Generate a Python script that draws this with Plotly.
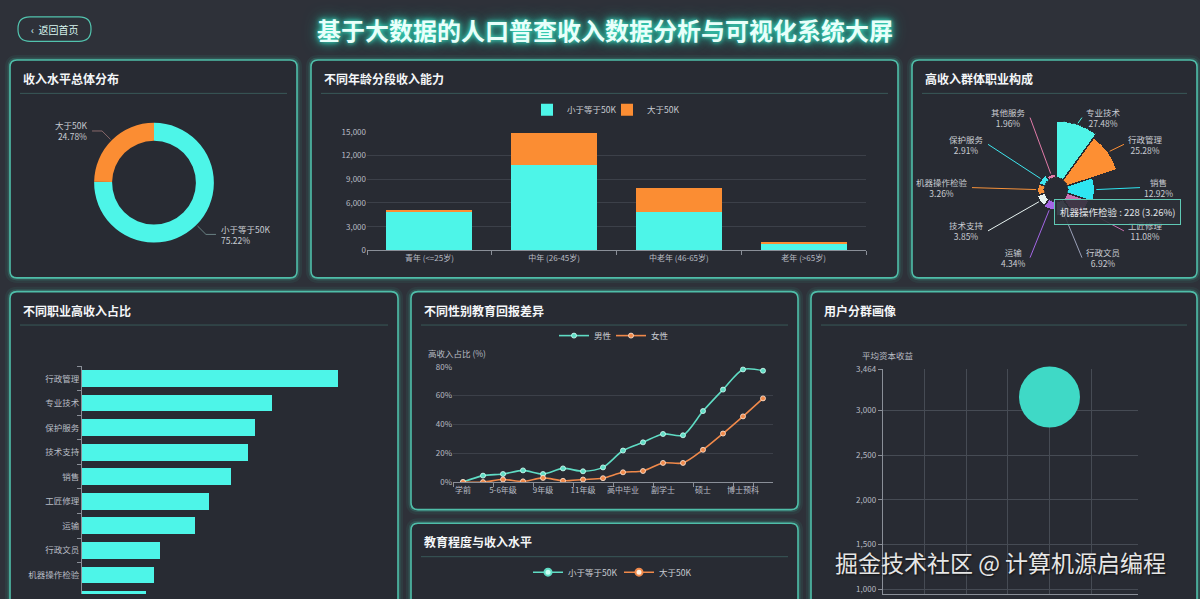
import math
import plotly.graph_objects as go

W, H = 1200, 599


def X(p):
    return p / W


def Y(p):
    return 1 - p / H


# ---------------- data ----------------
income_labels = ["小于等于50K", "大于50K"]
income_share = [75.22, 24.78]

age_groups = ["青年 (<=25岁)", "中年 (26-45岁)", "中老年 (46-65岁)", "老年 (>65岁)"]
age_low = [5000, 10800, 4920, 830]
age_high = [120, 4050, 2930, 280]

occ_names = ["专业技术", "行政管理", "销售", "工匠修理", "行政文员", "运输",
             "技术支持", "机器操作检验", "保护服务", "其他服务"]
occ_share = [27.48, 25.28, 12.92, 11.08, 6.92, 4.34, 3.85, 3.26, 2.91, 1.96]

rate_occ = ["行政管理", "专业技术", "保护服务", "技术支持", "销售", "工匠修理",
            "运输", "行政文员", "机器操作检验", "农林渔业"]
rate_val = [45.7, 33.9, 30.9, 29.6, 26.6, 22.7, 20.2, 13.9, 12.9, 11.4]

edu_levels = ["学前", "1-4年级", "5-6年级", "7-8年级", "9年级", "10年级", "11年级", "12年级",
              "高中毕业", "大学肄业", "副学士", "学术副学士", "硕士", "专业学位", "博士预科", "博士"]
male_rate = [0, 4.5, 5.6, 8.1, 5.6, 9.5, 7.5, 10.2, 21.9, 27.6, 33.4, 32.5, 49.3, 64.2, 78.2, 77.3]
female_rate = [0, 0, 1.8, 0.5, 2.9, 0.9, 1.8, 2.7, 6.8, 7.7, 13.3, 13.3, 22.4, 33.7, 45.6, 58.1]

cluster_x = [40]
cluster_y = [3153]
cap_ticks = [1000, 1500, 2000, 2500, 3000, 3464]

tooltip_text = "机器操作检验 : 228 (3.26%)"

# ---------------- style ----------------
FONT = "Noto Sans CJK SC, Noto Sans, sans-serif"
BG = "#2e3139"
PANEL = "#282b33"
CYAN = "#4df5e8"
ORANGE = "#fb8d33"
TEAL = "#5fdcc4"
LORANGE = "#f0894a"
GRID = "#3c4049"
AXIS = "#8a8f98"
TICK = "#b8bcc4"
rose_colors = ["#4ff4e8", "#fd8f33", "#2ee6f2", "#c86fb0", "#9aa0b8",
               "#a466e6", "#e8f4f2", "#f6913a", "#3fe6ee", "#e17aa8"]

fig = go.Figure()
shapes = []
annotations = []


def rrect_path(x0, y0, x1, y1, r):
    rx, ry = r / W, r / H
    a0, a1 = X(x0), X(x1)
    b0, b1 = Y(y0), Y(y1)  # b0 top (larger), b1 bottom
    return (f"M {a0+rx},{b0} L {a1-rx},{b0} Q {a1},{b0} {a1},{b0-ry} "
            f"L {a1},{b1+ry} Q {a1},{b1} {a1-rx},{b1} L {a0+rx},{b1} "
            f"Q {a0},{b1} {a0},{b1+ry} L {a0},{b0-ry} Q {a0},{b0} {a0+rx},{b0} Z")


panels = [
    ((10, 55, 297, 277), "收入水平总体分布"),
    ((311, 55, 898, 277), "不同年龄分段收入能力"),
    ((912, 55, 1197, 277), "高收入群体职业构成"),
    ((10, 291, 398, 640), "不同职业高收入占比"),
    ((411, 291, 798, 513), "不同性别教育回报差异"),
    ((411, 527, 798, 640), "教育程度与收入水平"),
    ((811, 291, 1197, 640), "用户分群画像"),
]
for (x0, y0, x1, y1), title in panels:
    p = rrect_path(x0, y0, x1, y1, 7)
    shapes.append(dict(type="path", path=p, xref="paper", yref="paper", layer="below",
                       line=dict(color="rgba(70,215,185,0.07)", width=10)))
    shapes.append(dict(type="path", path=p, xref="paper", yref="paper", layer="below",
                       line=dict(color="rgba(70,215,185,0.16)", width=5)))
    shapes.append(dict(type="path", path=p, xref="paper", yref="paper", layer="below",
                       fillcolor=PANEL, line=dict(color="#4fbea9", width=1.6)))
    shapes.append(dict(type="line", xref="paper", yref="paper", layer="below",
                       x0=X(x0 + 10), x1=X(x1 - 10), y0=Y(y0 + 34), y1=Y(y0 + 34),
                       line=dict(color="rgba(90,175,160,0.35)", width=1)))
    annotations.append(dict(text=f"<b>{title}</b>", x=X(x0 + 11), y=Y(y0 + 19), xref="paper",
                            yref="paper", xanchor="left", yanchor="middle", showarrow=False,
                            font=dict(size=12, color="#f4f6f8")))

# header
annotations.append(dict(text="<b>基于大数据的人口普查收入数据分析与可视化系统大屏</b>",
                        x=X(605), y=Y(24), xref="paper", yref="paper", showarrow=False,
                        xanchor="center", yanchor="middle",
                        font=dict(size=24, color="#e8fffa",
                                  shadow="0 0 4px #3ce0c4, 0 0 9px #2fbfa6, 0 0 16px #1f9f8a")))
shapes.append(dict(type="path", path=rrect_path(18, 11, 91, 36, 12), xref="paper", yref="paper",
                   layer="below", line=dict(color="#52c3ae", width=1.2)))
annotations.append(dict(text="‹  返回首页", x=X(55), y=Y(23.5), xref="paper", yref="paper",
                        showarrow=False, xanchor="center", yanchor="middle",
                        font=dict(size=10, color="#d8f5ef")))

# ---------------- panel A: donut ----------------
cxA, cyA, rA = 154, 180, 61
fig.add_trace(go.Pie(labels=income_labels, values=income_share, hole=0.7, sort=False,
                     direction="clockwise", rotation=0, textinfo="none", showlegend=False,
                     marker=dict(colors=[CYAN, ORANGE], line=dict(width=0)),
                     domain=dict(x=[X(cxA - rA), X(cxA + rA)], y=[Y(cyA + rA), Y(cyA - rA)])))
tot = sum(income_share)
cum = 0
for lab, v, col in zip(income_labels, income_share, [CYAN, ORANGE]):
    mid = math.radians((cum + v / 2) / tot * 360)
    cum += v
    sx, sy = math.sin(mid), -math.cos(mid)
    p0 = (cxA + (rA + 1) * sx, cyA + (rA + 1) * sy)
    p1 = (cxA + (rA + 13) * sx, cyA + (rA + 13) * sy)
    side = 1 if sx >= 0 else -1
    p2 = (p1[0] + 10 * side, p1[1])
    shapes.append(dict(type="path", xref="paper", yref="paper", layer="below",
                       path=f"M {X(p0[0])},{Y(p0[1])} L {X(p1[0])},{Y(p1[1])} L {X(p2[0])},{Y(p2[1])}",
                       line=dict(color="rgba(160,120,120,0.8)" if side < 0 else "rgba(120,150,150,0.8)", width=1)))
    annotations.append(dict(text=f"{lab}<br>{v:.2f}%", x=X(p2[0] + 3 * side), y=Y(p2[1]),
                            xref="paper", yref="paper", showarrow=False,
                            xanchor="left" if side > 0 else "right", yanchor="middle",
                            align="left" if side > 0 else "right",
                            font=dict(size=8.5, color="#c8ccd2")))

# ---------------- panel B: stacked bars ----------------
fig.add_trace(go.Bar(x=age_groups, y=age_low, name="小于等于50K", marker=dict(color=CYAN, line=dict(width=0)),
                     width=0.69, xaxis="x", yaxis="y", legend="legend", showlegend=True))
fig.add_trace(go.Bar(x=age_groups, y=age_high, name="大于50K", marker=dict(color=ORANGE, line=dict(width=0)),
                     width=0.69, xaxis="x", yaxis="y", legend="legend2", showlegend=True))

# ---------------- panel C: rose ----------------
cxC, cyC, RC, hole_px = 1056, 187, 70, 12
fig.add_trace(go.Barpolar(r=occ_share, theta=[18 + 36 * i for i in range(len(occ_share))],
                          width=[36] * len(occ_share), text=occ_names,
                          marker=dict(color=rose_colors, line=dict(color=PANEL, width=1.5)),
                          subplot="polar", showlegend=False))
vmax = max(occ_share)
for i, (nm, v, col) in enumerate(zip(occ_names, occ_share, rose_colors)):
    a = math.radians(18 + 36 * i)
    sx, cs = math.sin(a), math.cos(a)
    rpx = hole_px + (RC - hole_px) * v / vmax
    e = (cxC + (rpx + 1) * sx, cyC - (rpx + 1) * cs)
    lx, ly = cxC + 84 * sx, 185 - 75 * cs
    shapes.append(dict(type="line", xref="paper", yref="paper", layer="below",
                       x0=X(e[0]), y0=Y(e[1]), x1=X(lx), y1=Y(ly),
                       line=dict(color=col, width=1)))
    side = 1 if sx > 0 else -1
    annotations.append(dict(text=f"{nm}<br>{v:.2f}%", x=X(lx + 2 * side), y=Y(ly),
                            xref="paper", yref="paper", showarrow=False,
                            xanchor="left" if side > 0 else "right", yanchor="middle",
                            align="center", font=dict(size=8.5, color="#c8ccd2")))
annotations.append(dict(text=tooltip_text, x=X(1054), y=Y(197), xref="paper", yref="paper",
                        showarrow=False, xanchor="left", yanchor="top",
                        bgcolor="rgba(44,48,56,0.88)", bordercolor="#5fc9b5", borderwidth=1,
                        borderpad=5, font=dict(size=9.5, color="#e0e4e8")))

# ---------------- panel D: horizontal bars ----------------
fig.add_trace(go.Bar(x=rate_val, y=rate_occ, orientation="h", marker=dict(color=CYAN, line=dict(width=0)),
                     width=0.68, xaxis="x2", yaxis="y2", showlegend=False))

# ---------------- panel E: lines ----------------
fig.add_trace(go.Scatter(x=edu_levels, y=male_rate, name="男性", mode="lines+markers",
                         line=dict(color=TEAL, width=1.6, shape="spline", smoothing=0.8),
                         marker=dict(size=5, color=TEAL, line=dict(color="#d8fff6", width=0.8)),
                         xaxis="x3", yaxis="y3", legend="legend3", showlegend=True))
fig.add_trace(go.Scatter(x=edu_levels, y=female_rate, name="女性", mode="lines+markers",
                         line=dict(color=LORANGE, width=1.6, shape="spline", smoothing=0.8),
                         marker=dict(size=5, color=LORANGE, line=dict(color="#ffe8d8", width=0.8)),
                         xaxis="x3", yaxis="y3", legend="legend4", showlegend=True))
annotations.append(dict(text="高收入占比 (%)", x=X(426), y=Y(353), xref="paper", yref="paper",
                        showarrow=False, xanchor="left", yanchor="middle",
                        font=dict(size=8.5, color=TICK)))

# ---------------- panel F: legend only (chart body below view) ----------------
fig.add_trace(go.Scatter(x=[None], y=[None], name="小于等于50K", mode="lines+markers",
                         line=dict(color=TEAL, width=1.6),
                         marker=dict(size=7, color="#c8fff2", line=dict(color=TEAL, width=2)),
                         xaxis="x5", yaxis="y5", legend="legend5", showlegend=True))
fig.add_trace(go.Scatter(x=[None], y=[None], name="大于50K", mode="lines+markers",
                         line=dict(color=LORANGE, width=1.6),
                         marker=dict(size=7, color="#fff0e0", line=dict(color=LORANGE, width=2)),
                         xaxis="x5", yaxis="y5", legend="legend6", showlegend=True))

# ---------------- panel G: bubble ----------------
fig.add_trace(go.Scatter(x=cluster_x, y=cluster_y, mode="markers", cliponaxis=False,
                         marker=dict(size=61, color="#3fd9c6", line=dict(width=0)),
                         xaxis="x4", yaxis="y4", showlegend=False))
annotations.append(dict(text="平均资本收益", x=X(860), y=Y(356), xref="paper", yref="paper",
                        showarrow=False, xanchor="left", yanchor="middle",
                        font=dict(size=8.5, color=TICK)))

# watermark
annotations.append(dict(text="掘金技术社区 @ 计算机源启编程", x=X(1001), y=Y(566), xref="paper",
                        yref="paper", showarrow=False, xanchor="center", yanchor="middle",
                        font=dict(size=23, color="#e6e6e6", shadow="1px 1px 2px #111")))

tickfont = dict(size=8, color=TICK)
legfont = dict(size=8.5, color="#c8ccd2")


def leg(xp, yp):
    return dict(orientation="h", x=X(xp), y=Y(yp), xanchor="left", yanchor="top",
                font=legfont, bgcolor="rgba(0,0,0,0)", itemwidth=30, visible=True)


fig.update_layout(
    width=W, height=H, margin=dict(l=0, r=0, t=0, b=0), autosize=False,
    paper_bgcolor=BG, plot_bgcolor="rgba(0,0,0,0)",
    font=dict(family=FONT, color="#c8ccd2"),
    barmode="stack", showlegend=True,
    shapes=shapes, annotations=annotations,
    # panel B
    xaxis=dict(domain=[X(367), X(866)], anchor="y", type="category", showline=True,
               linecolor=AXIS, ticks="outside", tickson="boundaries", ticklen=4, tickcolor=AXIS,
               tickfont=tickfont, tickangle=0, showgrid=False, zeroline=False),
    yaxis=dict(domain=[Y(249), Y(128)], anchor="x", range=[0, 15020], dtick=3000, tickformat=",",
               gridcolor=GRID, showline=False, zeroline=False, tickfont=tickfont, ticks=""),
    # panel D
    xaxis2=dict(domain=[X(82), X(362)], anchor="y2", range=[0, 50], showticklabels=False,
                showgrid=False, zeroline=False, showline=False),
    yaxis2=dict(domain=[0, Y(367)], anchor="x2", type="category", categoryorder="array",
                categoryarray=rate_occ, range=[8.78, -0.5], showline=True, linecolor=AXIS,
                ticks="outside", tickson="boundaries", ticklen=4, tickcolor=AXIS,
                tickfont=dict(size=8.5, color=TICK), showgrid=False),
    # panel E
    xaxis3=dict(domain=[X(453), X(773)], anchor="y3", type="category", categoryorder="array",
                categoryarray=edu_levels, tickvals=edu_levels[::2], range=[-0.5, 15.5],
                showline=True, linecolor=AXIS, ticks="outside", tickson="boundaries", ticklen=4,
                tickcolor=AXIS, tickfont=tickfont, tickangle=0, showgrid=False, zeroline=False),
    yaxis3=dict(domain=[Y(485), Y(367)], anchor="x3", range=[0, 80.4], dtick=20, ticksuffix="%",
                gridcolor=GRID, showline=False, zeroline=False, tickfont=tickfont),
    # panel G
    xaxis4=dict(domain=[X(882.7), X(1138.3)], anchor="y4", range=[0, 61.3],
                tickvals=[0, 10, 20, 30, 40, 50, 61.3], showticklabels=False,
                gridcolor="#464b54", showline=True, linecolor=AXIS, zeroline=False),
    yaxis4=dict(domain=[0, Y(370)], anchor="x4", range=[945, 3464], tickvals=cap_ticks,
                ticktext=[f"{v:,}" for v in cap_ticks], gridcolor="#464b54", showline=True,
                linecolor=AXIS, ticks="outside", ticklen=4, tickcolor=AXIS, zeroline=False,
                tickfont=tickfont),
    # panel F (hidden axes)
    xaxis5=dict(domain=[X(450), X(760)], anchor="y5", visible=False, range=[0, 1]),
    yaxis5=dict(domain=[0, Y(592)], anchor="x5", visible=False, range=[0, 1]),
    polar=dict(domain=dict(x=[X(cxC - RC), X(cxC + RC)], y=[Y(cyC + RC), Y(cyC - RC)]),
               hole=hole_px / RC, bgcolor="rgba(0,0,0,0)",
               radialaxis=dict(visible=False, range=[0, vmax]),
               angularaxis=dict(visible=False, rotation=90, direction="clockwise")),
    legend=leg(527, 91),
    legend2=leg(607, 91),
    legend3=leg(554, 321),
    legend4=leg(611, 321),
    legend5=leg(528, 562),
    legend6=leg(619, 562),
)

fig.write_html("out.html", config={"displayModeBar": False},
               post_script="document.body.style.margin='0';document.body.style.overflow='hidden';"
                           "document.body.style.background='#2e3139';")
